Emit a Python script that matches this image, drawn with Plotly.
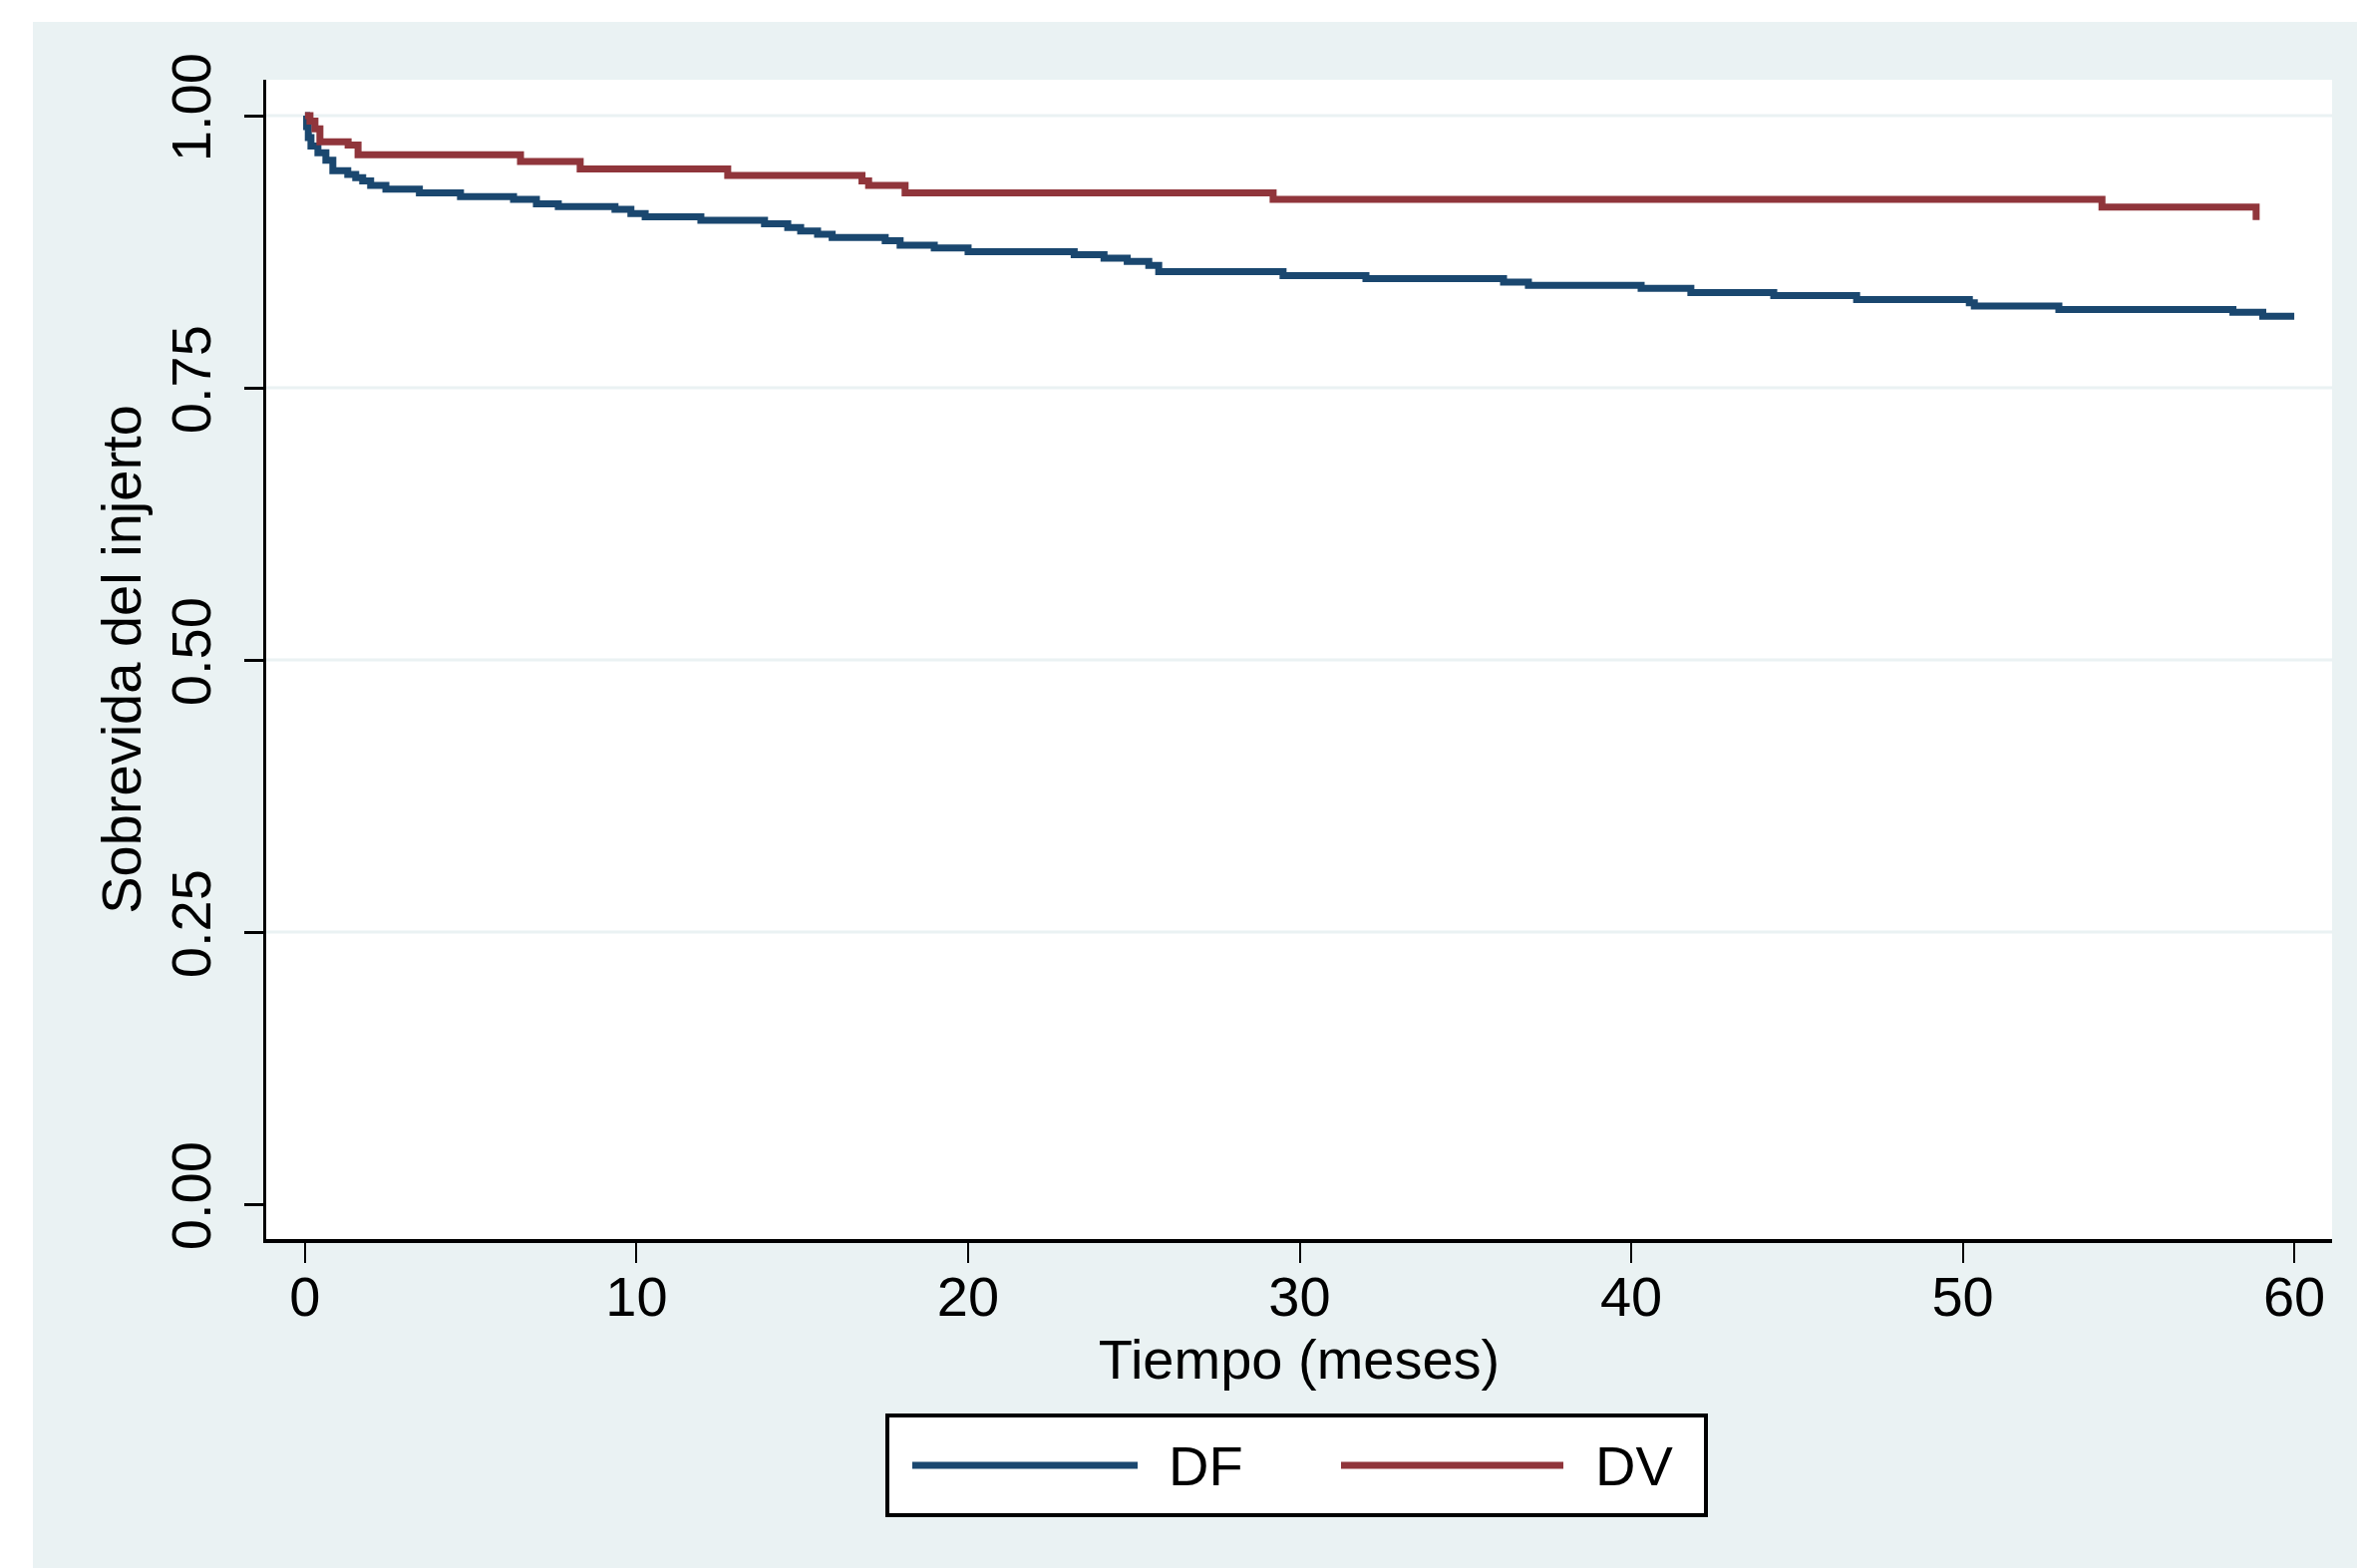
import plotly.graph_objects as go

# ---------------- data ----------------
df_t = [0, 0.05, 0.1, 0.18, 0.39, 0.63, 0.84, 1.29, 1.53, 1.74, 1.98, 2.44, 3.45, 4.69,
        6.29, 6.98, 7.64, 9.35, 9.83, 10.26, 11.94, 13.86, 14.56, 14.95, 15.46, 15.9,
        17.5, 17.95, 18.98, 20.0, 23.2, 24.1, 24.8, 25.45, 25.75, 29.5, 32.0, 36.15,
        36.9, 40.3, 41.8, 44.3, 46.8, 50.2, 50.35, 52.9, 58.15, 59.05, 60.0]
df_s = [1.0, 0.99, 0.98, 0.972, 0.966, 0.959, 0.9495, 0.946, 0.943, 0.940, 0.936, 0.9325,
        0.929, 0.9256, 0.923, 0.919, 0.9164, 0.914, 0.910, 0.907, 0.9038, 0.9006, 0.8972,
        0.894, 0.891, 0.888, 0.885, 0.881, 0.8785, 0.875, 0.8723, 0.869, 0.866, 0.8624,
        0.8568, 0.8531, 0.8503, 0.847, 0.8442, 0.8413, 0.8375, 0.8348, 0.8311, 0.828,
        0.8252, 0.822, 0.8194, 0.8157, 0.8157]

dv_t = [0, 0.15, 0.3, 0.45, 1.3, 1.6, 6.5, 8.3, 12.75, 16.8, 17.0, 18.1, 29.2, 54.2, 58.85]
dv_s = [1.0, 0.995, 0.988, 0.976, 0.973, 0.964, 0.958, 0.951, 0.945, 0.940, 0.936, 0.929,
        0.923, 0.916, 0.904]

series_names = ["DF", "DV"]
x_ticks = [0, 10, 20, 30, 40, 50, 60]
x_ticktext = ["0", "10", "20", "30", "40", "50", "60"]
y_ticks = [0, 0.25, 0.5, 0.75, 1.0]
y_ticktext = ["0.00", "0.25", "0.50", "0.75", "1.00"]
grid_vals = [0.25, 0.5, 0.75, 1.0]

# ---------------- style ----------------
W, H = 2364, 1573
ML, MR, MT, MB = 267, 25, 80, 330
PW, PH = W - ML - MR, H - MT - MB
BLUE = "#1A476F"
RED = "#90353B"
BG = "#EAF2F3"
FONT = "Liberation Sans, Arial, sans-serif"
FS = 56


def px(xp):
    return (xp - ML) / PW


def py(yp):
    return (H - MB - yp) / PH


fig = go.Figure()
fig.add_trace(go.Scatter(x=df_t, y=df_s, mode="lines", name=series_names[0],
                         line=dict(color=BLUE, width=7, shape="hv"), showlegend=False))
fig.add_trace(go.Scatter(x=dv_t, y=dv_s, mode="lines", name=series_names[1],
                         line=dict(color=RED, width=7, shape="hv"), showlegend=False))

shapes = []
# white outer strips (top and left)
shapes.append(dict(type="rect", xref="paper", yref="paper", x0=px(0), x1=px(W), y0=py(22), y1=py(0),
                   fillcolor="white", line=dict(width=0), layer="below"))
shapes.append(dict(type="rect", xref="paper", yref="paper", x0=px(0), x1=px(33), y0=py(H), y1=py(0),
                   fillcolor="white", line=dict(width=0), layer="below"))
# grid lines
for g in grid_vals:
    shapes.append(dict(type="line", xref="paper", yref="y", x0=0, x1=1, y0=g, y1=g,
                       line=dict(color=BG, width=3), layer="below"))
# legend box
shapes.append(dict(type="rect", xref="paper", yref="paper", x0=px(890), x1=px(1711),
                   y0=py(1520), y1=py(1420), fillcolor="white", line=dict(color="black", width=4)))
shapes.append(dict(type="line", xref="paper", yref="paper", x0=px(915), x1=px(1141),
                   y0=py(1470), y1=py(1470), line=dict(color=BLUE, width=7)))
shapes.append(dict(type="line", xref="paper", yref="paper", x0=px(1345), x1=px(1568),
                   y0=py(1470), y1=py(1470), line=dict(color=RED, width=7)))

annotations = [
    dict(xref="paper", yref="paper", x=px(1170), y=py(1470), text=series_names[0], showarrow=False,
         xanchor="left", yanchor="middle", font=dict(family=FONT, size=FS, color="black")),
    dict(xref="paper", yref="paper", x=px(1598), y=py(1470), text=series_names[1], showarrow=False,
         xanchor="left", yanchor="middle", font=dict(family=FONT, size=FS, color="black")),
]

fig.update_layout(
    width=W, height=H,
    margin=dict(l=ML, r=MR, t=MT, b=MB, pad=0),
    paper_bgcolor=BG, plot_bgcolor="white",
    font=dict(family=FONT, size=FS, color="black"),
    shapes=shapes, annotations=annotations, showlegend=False,
    xaxis=dict(range=[-1.17, 61.14], tickvals=x_ticks, ticktext=x_ticktext,
               showgrid=False, zeroline=False, showline=True, linecolor="black", linewidth=4,
               ticks="outside", ticklen=20, tickwidth=2, tickcolor="black", ticklabelstandoff=-14,
               tickfont=dict(family=FONT, size=FS, color="black"),
               title=dict(text="Tiempo (meses)", font=dict(family=FONT, size=FS, color="black"), standoff=0)),
    yaxis=dict(range=[-0.032, 1.033], tickvals=y_ticks, ticktext=y_ticktext, tickangle=-90,
               showgrid=False, zeroline=False, showline=True, linecolor="black", linewidth=3,
               ticks="outside", ticklen=19, tickwidth=3, tickcolor="black", ticklabelstandoff=12,
               tickfont=dict(family=FONT, size=FS, color="black"),
               title=dict(text="Sobrevida del injerto", font=dict(family=FONT, size=FS, color="black"), standoff=0)),
)

fig.write_html("out.html", config={"displayModeBar": False},
               post_script="document.body.style.margin='0';")
